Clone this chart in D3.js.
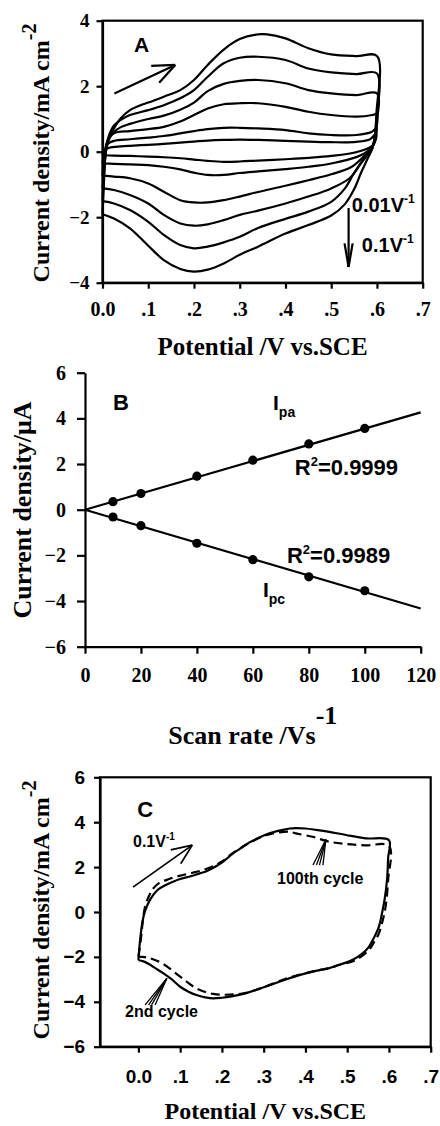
<!DOCTYPE html>
<html><head><meta charset="utf-8">
<script src="https://cdn.jsdelivr.net/npm/d3@7"></script>
<style>body{margin:0;background:#fff}svg{display:block}</style>
</head><body>
<svg id="chart" width="440" height="1126"></svg>
<script>
// ---------------- DATA ----------------
// Panel A: cyclic voltammograms at different scan rates (mV/s), [E (V), j (mA cm^-2)] in loop order
const scanRatesA = [10, 20, 40, 60, 80, 100];
const cv10 = [[0,-0.1],[0.005,0.06],[0.015,0.12],[0.04,0.16],[0.06,0.18],[0.1,0.21],[0.134,0.24],[0.17,0.28],[0.2,0.31],[0.23,0.34],[0.265,0.36],[0.3,0.37],[0.34,0.36],[0.4,0.33],[0.45,0.31],[0.5,0.29],[0.555,0.3],[0.585,0.38],[0.598,0.55],
  [0.597,0.35],[0.59,0.18],[0.558,0.0],[0.5,-0.13],[0.45,-0.19],[0.4,-0.23],[0.34,-0.27],[0.3,-0.3],[0.265,-0.31],[0.23,-0.28],[0.2,-0.24],[0.17,-0.2],[0.134,-0.17],[0.1,-0.15],[0.06,-0.13],[0.025,-0.12],[0,-0.1]];
const cv20 = [[0,-0.36],[0.004,-0.05],[0.01,0.22],[0.025,0.33],[0.06,0.38],[0.1,0.43],[0.134,0.48],[0.17,0.56],[0.2,0.63],[0.23,0.69],[0.265,0.73],[0.3,0.73],[0.34,0.71],[0.4,0.66],[0.45,0.56],[0.5,0.51],[0.555,0.51],[0.588,0.6],[0.599,0.72],
  [0.598,0.5],[0.592,0.2],[0.58,0.02],[0.558,-0.15],[0.5,-0.36],[0.45,-0.46],[0.4,-0.53],[0.34,-0.6],[0.3,-0.65],[0.265,-0.71],[0.23,-0.71],[0.2,-0.64],[0.17,-0.54],[0.134,-0.46],[0.1,-0.41],[0.06,-0.39],[0.025,-0.37],[0,-0.36]];
const cv40 = [[0,-0.73],[0.004,-0.2],[0.01,0.3],[0.025,0.56],[0.06,0.63],[0.1,0.69],[0.134,0.76],[0.17,0.92],[0.2,1.12],[0.23,1.32],[0.265,1.45],[0.3,1.48],[0.34,1.48],[0.4,1.37],[0.45,1.22],[0.5,1.12],[0.555,1.07],[0.59,1.12],[0.6,1.16],
  [0.599,0.7],[0.593,0.25],[0.585,0.05],[0.573,-0.12],[0.545,-0.46],[0.5,-0.69],[0.45,-0.87],[0.4,-1.04],[0.34,-1.23],[0.3,-1.37],[0.265,-1.48],[0.23,-1.55],[0.2,-1.55],[0.17,-1.48],[0.134,-1.22],[0.1,-0.97],[0.06,-0.81],[0.025,-0.76],[0,-0.73]];
const cv60 = [[0,-1.12],[0.004,-0.5],[0.008,0.05],[0.015,0.4],[0.025,0.6],[0.04,0.75],[0.06,0.85],[0.1,1.0],[0.134,1.1],[0.17,1.28],[0.2,1.5],[0.23,1.85],[0.265,2.07],[0.3,2.16],[0.34,2.19],[0.4,2.09],[0.45,1.88],[0.5,1.78],[0.555,1.73],[0.6,1.78],
  [0.599,0.85],[0.594,0.3],[0.585,0.02],[0.565,-0.36],[0.54,-0.81],[0.5,-1.12],[0.45,-1.37],[0.4,-1.58],[0.34,-1.8],[0.3,-1.93],[0.265,-2.09],[0.23,-2.22],[0.2,-2.26],[0.17,-2.19],[0.134,-1.93],[0.1,-1.58],[0.06,-1.32],[0.025,-1.17],[0,-1.12]];
const cv80 = [[0,-1.51],[0.003,-0.8],[0.006,-0.1],[0.012,0.4],[0.025,0.8],[0.04,0.97],[0.06,1.12],[0.1,1.27],[0.134,1.42],[0.17,1.63],[0.2,1.88],[0.23,2.29],[0.265,2.7],[0.3,2.87],[0.34,2.9],[0.4,2.8],[0.45,2.54],[0.5,2.42],[0.555,2.37],[0.6,2.39],
  [0.599,1.0],[0.594,0.35],[0.588,0.05],[0.576,-0.12],[0.55,-0.65],[0.53,-1.12],[0.5,-1.53],[0.45,-1.83],[0.4,-2.05],[0.34,-2.33],[0.3,-2.6],[0.265,-2.77],[0.23,-2.9],[0.2,-2.95],[0.17,-2.85],[0.134,-2.54],[0.1,-2.14],[0.06,-1.78],[0.025,-1.58],[0,-1.51]];
const cv100 = [[0,-1.91],[0.003,-1.0],[0.006,-0.2],[0.012,0.35],[0.025,0.71],[0.04,1.02],[0.06,1.27],[0.083,1.42],[0.1,1.5],[0.134,1.68],[0.17,1.88],[0.2,2.19],[0.23,2.65],[0.265,3.12],[0.3,3.44],[0.34,3.58],[0.36,3.58],[0.4,3.46],[0.45,3.16],[0.5,2.97],[0.555,2.92],[0.6,2.92],
  [0.599,1.2],[0.595,0.45],[0.59,0.1],[0.58,-0.2],[0.565,-0.65],[0.55,-1.15],[0.53,-1.6],[0.5,-1.95],[0.45,-2.24],[0.4,-2.5],[0.34,-2.9],[0.3,-3.15],[0.265,-3.41],[0.23,-3.6],[0.2,-3.66],[0.17,-3.58],[0.134,-3.31],[0.1,-2.87],[0.06,-2.34],[0.025,-2.04],[0,-1.91]];
const cvCurvesA = [cv10, cv20, cv40, cv60, cv80, cv100];
const potentialTicks = [0, 0.1, 0.2, 0.3, 0.4, 0.5, 0.6, 0.7];
const potentialTickLabels = ["0.0", ".1", ".2", ".3", ".4", ".5", ".6", ".7"];
const currentTicksA = [-4, -2, 0, 2, 4];

// Panel B: peak current vs scan rate
const scanRatesB = [10, 20, 40, 60, 80, 100];
const ipa = [0.35, 0.71, 1.47, 2.17, 2.88, 3.56];
const ipc = [-0.32, -0.70, -1.47, -2.19, -2.94, -3.55];
const fitX = [0, 120];
const ipaFit = [0, 4.26];
const ipcFit = [0, -4.33];
const scanTicks = [0, 20, 40, 60, 80, 100, 120];
const currentTicksB = [-6, -4, -2, 0, 2, 4, 6];

// Panel C: 2nd vs 100th cycle at 0.1 V/s
const cycle2 = [[0,-2.15],[0.004,-1.25],[0.01,-0.4],[0.016,0.05],[0.028,0.55],[0.044,0.95],[0.06,1.15],[0.083,1.35],[0.1,1.47],[0.123,1.58],[0.147,1.72],[0.163,1.82],[0.187,2.05],[0.203,2.24],[0.226,2.6],[0.242,2.8],[0.266,3.1],[0.282,3.25],[0.306,3.45],[0.322,3.55],[0.346,3.66],[0.362,3.72],[0.377,3.74],[0.4,3.72],[0.425,3.66],[0.457,3.57],[0.497,3.43],[0.544,3.28],[0.6,3.2],
  [0.598,2.4],[0.596,1.57],[0.59,0.6],[0.584,0.0],[0.576,-0.65],[0.564,-1.15],[0.552,-1.55],[0.536,-1.85],[0.512,-2.14],[0.485,-2.33],[0.457,-2.5],[0.425,-2.62],[0.385,-2.81],[0.346,-3.05],[0.3,-3.35],[0.26,-3.6],[0.22,-3.77],[0.2,-3.82],[0.179,-3.85],[0.16,-3.8],[0.139,-3.7],[0.12,-3.55],[0.1,-3.33],[0.08,-3.0],[0.06,-2.73],[0.04,-2.5],[0.028,-2.35],[0.012,-2.2],[0,-2.15]];
const cycle100 = [[0,-1.99],[0.006,-1.2],[0.01,-0.5],[0.016,0.24],[0.025,0.7],[0.036,1.06],[0.05,1.3],[0.068,1.43],[0.085,1.55],[0.107,1.65],[0.13,1.75],[0.155,1.87],[0.18,2.05],[0.2,2.25],[0.226,2.62],[0.266,3.08],[0.306,3.42],[0.338,3.55],[0.36,3.58],[0.377,3.5],[0.417,3.35],[0.457,3.13],[0.497,3.03],[0.544,2.97],[0.6,2.94],
  [0.598,1.43],[0.592,0.24],[0.584,-0.45],[0.576,-0.95],[0.564,-1.35],[0.552,-1.69],[0.52,-2.14],[0.48,-2.36],[0.457,-2.5],[0.425,-2.62],[0.385,-2.8],[0.346,-3.02],[0.3,-3.35],[0.258,-3.6],[0.219,-3.68],[0.179,-3.65],[0.139,-3.4],[0.1,-2.88],[0.06,-2.32],[0.028,-2.06],[0,-1.99]];
const currentTicksC = [-6, -4, -2, 0, 2, 4, 6];

// ---------------- DRAWING ----------------
const SERIF = "'Liberation Serif','Times New Roman',serif";
const SANS = "'Liberation Sans',Arial,sans-serif";
const svg = d3.select('#chart');
const LW = 2.2;

function styleAxis(g, family, size) {
  g.select('.domain').attr('stroke', '#000').attr('stroke-width', LW);
  g.selectAll('.tick line').attr('stroke', '#000').attr('stroke-width', LW);
  g.selectAll('.tick text').attr('font-family', family).attr('font-size', size).attr('font-weight', 'bold').attr('fill', '#000');
}

function arrow(g, x1, y1, x2, y2, barbLen, barbAng) {
  g.append('line').attr('x1', x1).attr('y1', y1).attr('x2', x2).attr('y2', y2);
  const a = Math.atan2(y1 - y2, x1 - x2);
  [barbAng, -barbAng].forEach(da => {
    g.append('line').attr('x1', x2).attr('y1', y2)
      .attr('x2', x2 + barbLen * Math.cos(a + da)).attr('y2', y2 + barbLen * Math.sin(a + da));
  });
}

function yTitle(x, yc, main, sup, size, supSize) {
  const t = svg.append('text').attr('transform', `translate(${x},${yc}) rotate(-90)`)
    .attr('text-anchor', 'middle').attr('font-family', SERIF).attr('font-weight', 'bold')
    .attr('font-size', size).attr('fill', '#000');
  t.append('tspan').text(main);
  if (sup) t.append('tspan').attr('font-size', supSize).attr('dy', -size * 0.55).text(sup);
}

// ===== Panel A =====
{
  const x = d3.scaleLinear().domain([0, 0.7]).range([102.5, 422.7]);
  const y = d3.scaleLinear().domain([-4, 4]).range([282.7, 20.7]);
  const g = svg.append('g');
  g.append('rect').attr('x', x(0)).attr('y', y(4)).attr('width', x(0.7) - x(0)).attr('height', y(-4) - y(4))
    .attr('fill', 'none').attr('stroke', '#000').attr('stroke-width', LW);
  const line = d3.line().x(d => x(d[0])).y(d => y(d[1])).curve(d3.curveCatmullRom.alpha(0.5));
  g.selectAll('path.cv').data(cvCurvesA).join('path').attr('class', 'cv')
    .attr('d', line).attr('fill', 'none').attr('stroke', '#000').attr('stroke-width', LW).attr('stroke-linejoin', 'round');
  const ax = g.append('g').attr('transform', `translate(0,${y(-4)})`)
    .call(d3.axisBottom(x).tickValues(potentialTicks).tickFormat((d, i) => potentialTickLabels[i]).tickSize(6).tickPadding(13).tickSizeOuter(0));
  styleAxis(ax, SERIF, 20);
  const ay = g.append('g').attr('transform', `translate(${x(0)},0)`)
    .call(d3.axisLeft(y).tickValues(currentTicksA).tickSize(6).tickPadding(7).tickSizeOuter(0));
  styleAxis(ay, SERIF, 19);
  // annotations
  g.append('text').attr('x', x(0.069)).attr('y', y(3.04)).attr('font-family', SANS).attr('font-weight', 'bold').attr('font-size', 21).text('A');
  const ag = g.append('g').attr('stroke', '#000').attr('stroke-width', LW);
  arrow(ag, x(0.026), y(1.78), x(0.159), y(2.65), 24, 0.4);
  arrow(ag, x(0.538), y(-1.72), x(0.538), y(-3.52), 24, 0.17);
  const t1 = g.append('text').attr('x', x(0.545)).attr('y', y(-1.84)).attr('font-family', SANS).attr('font-weight', 'bold').attr('font-size', 20);
  t1.append('tspan').text('0.01V'); t1.append('tspan').attr('font-size', 12).attr('dy', -9).text('-1');
  const t2 = g.append('text').attr('x', x(0.567)).attr('y', y(-3.06)).attr('font-family', SANS).attr('font-weight', 'bold').attr('font-size', 20);
  t2.append('tspan').text('0.1V'); t2.append('tspan').attr('font-size', 12).attr('dy', -9).text('-1');
  svg.append('text').attr('x', (x(0) + x(0.7)) / 2).attr('y', 355).attr('text-anchor', 'middle')
    .attr('font-family', SERIF).attr('font-weight', 'bold').attr('font-size', 25).text('Potential /V vs.SCE');
  yTitle(49, 153, 'Current density/mA cm', '-2', 24, 20);
}

// ===== Panel B =====
{
  const x = d3.scaleLinear().domain([0, 120]).range([85, 420.7]);
  const y = d3.scaleLinear().domain([-6, 6]).range([646.7, 372.7]);
  const g = svg.append('g');
  const ax = g.append('g').attr('transform', `translate(0,${y(-6)})`)
    .call(d3.axisBottom(x).tickValues(scanTicks).tickSize(7).tickPadding(14).tickSizeOuter(0));
  styleAxis(ax, SERIF, 20);
  const ay = g.append('g').attr('transform', `translate(${x(0)},0)`)
    .call(d3.axisLeft(y).tickValues(currentTicksB).tickSize(8).tickPadding(11).tickSizeOuter(0));
  styleAxis(ay, SERIF, 20);
  const fl = d3.line().x(d => x(d[0])).y(d => y(d[1]));
  [ipaFit, ipcFit].forEach(f => {
    g.append('path').attr('d', fl(fitX.map((v, i) => [v, f[i]]))).attr('fill', 'none').attr('stroke', '#000').attr('stroke-width', LW);
  });
  [ipa, ipc].forEach(s => {
    g.selectAll(null).data(scanRatesB.map((v, i) => [v, s[i]])).join('circle')
      .attr('cx', d => x(d[0])).attr('cy', d => y(d[1])).attr('r', 4.6).attr('fill', '#000');
  });
  const T = (xv, yv, size) => g.append('text').attr('x', x(xv)).attr('y', y(yv)).attr('font-family', SANS).attr('font-weight', 'bold').attr('font-size', size).attr('fill', '#000');
  T(10, 4.37, 22).text('B');
  const i1 = T(67.2, 4.37, 21); i1.append('tspan').text('I'); i1.append('tspan').attr('font-size', 14).attr('dy', 7).text('pa');
  const i2 = T(63.6, -3.82, 21); i2.append('tspan').text('I'); i2.append('tspan').attr('font-size', 14).attr('dy', 7).text('pc');
  const r1 = T(75, 1.52, 22); r1.append('tspan').text('R'); r1.append('tspan').attr('font-size', 13).attr('dy', -9).text('2'); r1.append('tspan').attr('dy', 9).text('=0.9999');
  const r2 = T(72.2, -2.33, 22); r2.append('tspan').text('R'); r2.append('tspan').attr('font-size', 13).attr('dy', -9).text('2'); r2.append('tspan').attr('dy', 9).text('=0.9989');
  const xt = svg.append('text').attr('x', (x(0) + x(120)) / 2).attr('y', 744).attr('text-anchor', 'middle')
    .attr('font-family', SERIF).attr('font-weight', 'bold').attr('font-size', 26);
  xt.append('tspan').text('Scan rate /Vs'); xt.append('tspan').attr('dy', -20).text('-1');
  yTitle(31, 510, 'Current density/μA', null, 26, 0);
}

// ===== Panel C =====
{
  const x = d3.scaleLinear().domain([-0.092, 0.7]).range([100, 430.7]);
  const y = d3.scaleLinear().domain([-6, 6]).range([1046.7, 777.3]);
  const g = svg.append('g');
  g.append('rect').attr('x', x(-0.092)).attr('y', y(6)).attr('width', x(0.7) - x(-0.092)).attr('height', y(-6) - y(6))
    .attr('fill', 'none').attr('stroke', '#000').attr('stroke-width', LW);
  const line = d3.line().x(d => x(d[0])).y(d => y(d[1])).curve(d3.curveCatmullRom.alpha(0.5));
  g.append('path').attr('d', line(cycle2)).attr('fill', 'none').attr('stroke', '#000').attr('stroke-width', LW);
  g.append('path').attr('d', line(cycle100)).attr('fill', 'none').attr('stroke', '#000').attr('stroke-width', LW).attr('stroke-dasharray', '9,5');
  const ax = g.append('g').attr('transform', `translate(0,${y(-6)})`)
    .call(d3.axisBottom(x).tickValues(potentialTicks).tickFormat((d, i) => potentialTickLabels[i]).tickSize(6).tickPadding(17).tickSizeOuter(0));
  styleAxis(ax, SANS, 19);
  const ay = g.append('g').attr('transform', `translate(${x(-0.092)},0)`)
    .call(d3.axisLeft(y).tickValues(currentTicksC).tickSize(6).tickPadding(9).tickSizeOuter(0));
  styleAxis(ay, SANS, 19);
  const T = (xv, yv, size) => g.append('text').attr('x', x(xv)).attr('y', y(yv)).attr('font-family', SANS).attr('font-weight', 'bold').attr('font-size', size).attr('fill', '#000');
  T(-0.003, 4.23, 22).text('C');
  const v = T(-0.013, 2.9, 16); v.append('tspan').text('0.1V'); v.append('tspan').attr('font-size', 10).attr('dy', -7).text('-1');
  T(0.332, 1.25, 16).text('100th cycle');
  T(-0.032, -4.68, 16).text('2nd cycle');
  const ag = g.append('g').attr('stroke', '#000').attr('stroke-width', 1.7);
  arrow(ag, x(-0.013), y(1.11), x(0.129), y(2.98), 22, 0.4);
  // multi-line pointer arrows
  [[0.43, 2.09, 0.449, 3.23], [0.028, -4.14, 0.068, -2.96]].forEach(([x1, y1, x2, y2]) => {
    const X1 = x(x1), Y1 = y(y1), X2 = x(x2), Y2 = y(y2);
    [-5, -1.5, 1.5, 5].forEach(o => {
      ag.append('line').attr('x1', X1 + o).attr('y1', Y1).attr('x2', X2).attr('y2', Y2).attr('stroke-width', 1.3);
    });
  });
  svg.append('text').attr('x', (x(-0.092) + x(0.7)) / 2).attr('y', 1119).attr('text-anchor', 'middle')
    .attr('font-family', SERIF).attr('font-weight', 'bold').attr('font-size', 24).text('Potential /V vs.SCE');
  yTitle(49, 910, 'Current density/mA cm', '-2', 24, 20);
}
</script>
</body></html>
